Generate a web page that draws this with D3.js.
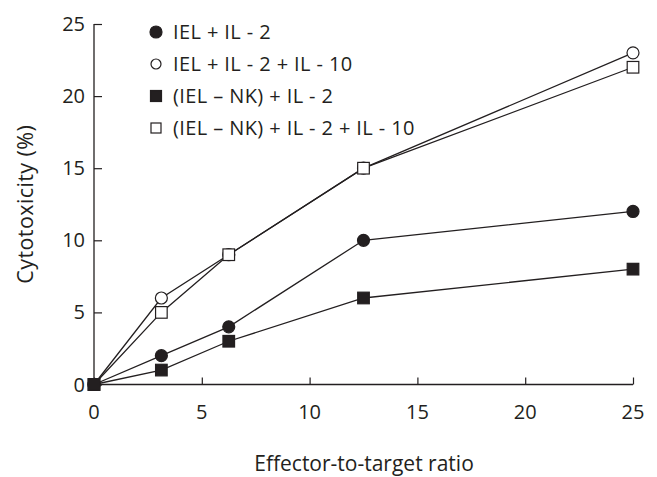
<!DOCTYPE html>
<html>
<head>
<meta charset="utf-8">
<script src="https://cdn.jsdelivr.net/npm/d3@7"></script>
<style>
  html, body { margin: 0; padding: 0; background: #fff; }
  svg { display: block; }
  text { font-family: "Open Sans", sans-serif; fill: #231f20; }
</style>
</head>
<body>
<script>
// ---- data ----
const ratios = [0, 3.125, 6.25, 12.5, 25];
const ielIl2 = [0, 2, 4, 10, 12];
const ielIl2Il10 = [0, 6, 9, 15, 23];
const ielNkIl2 = [0, 1, 3, 6, 8];
const ielNkIl2Il10 = [0, 5, 9, 15, 22];
const xTicks = [0, 5, 10, 15, 20, 25];
const yTicks = [0, 5, 10, 15, 20, 25];
const seriesNames = ["IEL + IL - 2", "IEL + IL - 2 + IL - 10", "(IEL \u2013 NK) + IL - 2", "(IEL \u2013 NK) + IL - 2 + IL - 10"];
const xTitle = "Effector-to-target ratio";
const yTitle = "Cytotoxicity (%)";

const series = [
  { name: seriesNames[0], values: ielIl2, shape: "circle", filled: true },
  { name: seriesNames[1], values: ielIl2Il10, shape: "circle", filled: false },
  { name: seriesNames[2], values: ielNkIl2, shape: "square", filled: true },
  { name: seriesNames[3], values: ielNkIl2Il10, shape: "square", filled: false }
];
const drawOrder = [1, 3, 0, 2];

const W = 657, H = 477;
const ink = "#231f20";
const svg = d3.select("body").append("svg").attr("width", W).attr("height", H);

const x = d3.scaleLinear().domain([0, 25]).range([94, 633]);
const y = d3.scaleLinear().domain([0, 25]).range([384.5, 24]);

// axes
const xAxis = svg.append("g").attr("transform", `translate(0,${y(0)})`)
  .call(d3.axisTop(x).tickValues(xTicks).tickSize(7).tickFormat(d3.format("d")));
xAxis.select(".domain").remove();
xAxis.selectAll("text").remove();
xAxis.append("line").attr("x1", x(0)).attr("x2", x(25)).attr("stroke", ink).attr("stroke-width", 1.3);
xAxis.selectAll(".tick line").attr("stroke", ink).attr("stroke-width", 1.2);
svg.append("g").selectAll("text").data(xTicks).join("text")
  .attr("x", d => x(d)).attr("y", 418.5).attr("text-anchor", "middle")
  .attr("font-size", 20).text(d => d);

const yAxis = svg.append("g").attr("transform", `translate(${x(0)},0)`)
  .call(d3.axisRight(y).tickValues(yTicks).tickSize(8));
yAxis.select(".domain").remove();
yAxis.selectAll("text").remove();
yAxis.append("line").attr("y1", y(0) + 0.5).attr("y2", y(25)).attr("stroke", ink).attr("stroke-width", 1.3);
yAxis.selectAll(".tick line").attr("stroke", ink).attr("stroke-width", 1.2);
svg.append("g").selectAll("text").data(yTicks).join("text")
  .attr("x", 85).attr("y", d => y(d) + 7).attr("text-anchor", "end")
  .attr("font-size", 20).text(d => d);

// titles
svg.append("text").attr("x", 364).attr("y", 470.5).attr("text-anchor", "middle")
  .attr("font-size", 21).text(xTitle);
svg.append("text").attr("transform", `translate(33,${(y(0) + y(25)) / 2}) rotate(-90)`)
  .attr("text-anchor", "middle").attr("font-size", 21.5).attr("letter-spacing", 0.4).text(yTitle);

// marker helper
function marker(g, s, cx, cy, r) {
  if (s.shape === "circle") {
    g.append("circle").attr("cx", cx).attr("cy", cy).attr("r", r)
      .attr("fill", s.filled ? ink : "#fff").attr("stroke", ink).attr("stroke-width", 1.2);
  } else {
    g.append("rect").attr("x", cx - r).attr("y", cy - r).attr("width", 2 * r).attr("height", 2 * r)
      .attr("fill", s.filled ? ink : "#fff").attr("stroke", ink).attr("stroke-width", 1.2);
  }
}

// lines
const line = d3.line().x((d, i) => x(ratios[i])).y(d => y(d));
const linesG = svg.append("g");
drawOrder.forEach(k => {
  linesG.append("path").attr("d", line(series[k].values))
    .attr("fill", "none").attr("stroke", ink).attr("stroke-width", 1.3);
});
// markers
const markG = svg.append("g");
drawOrder.forEach(k => {
  const s = series[k];
  s.values.forEach((v, i) => marker(markG, s, x(ratios[i]), y(v), s.shape === "circle" ? 6 : 5.8));
});

// legend
const legG = svg.append("g");
series.forEach((s, i) => {
  const ly = 32 + i * 32;
  marker(legG, s, 156, ly, s.filled ? (s.shape === "circle" ? 6 : 5.5) : 5);
  legG.append("text").attr("x", 173).attr("y", ly + 7).attr("font-size", 20)
    .attr("letter-spacing", 0.4).text(s.name);
});
</script>
</body>
</html>
